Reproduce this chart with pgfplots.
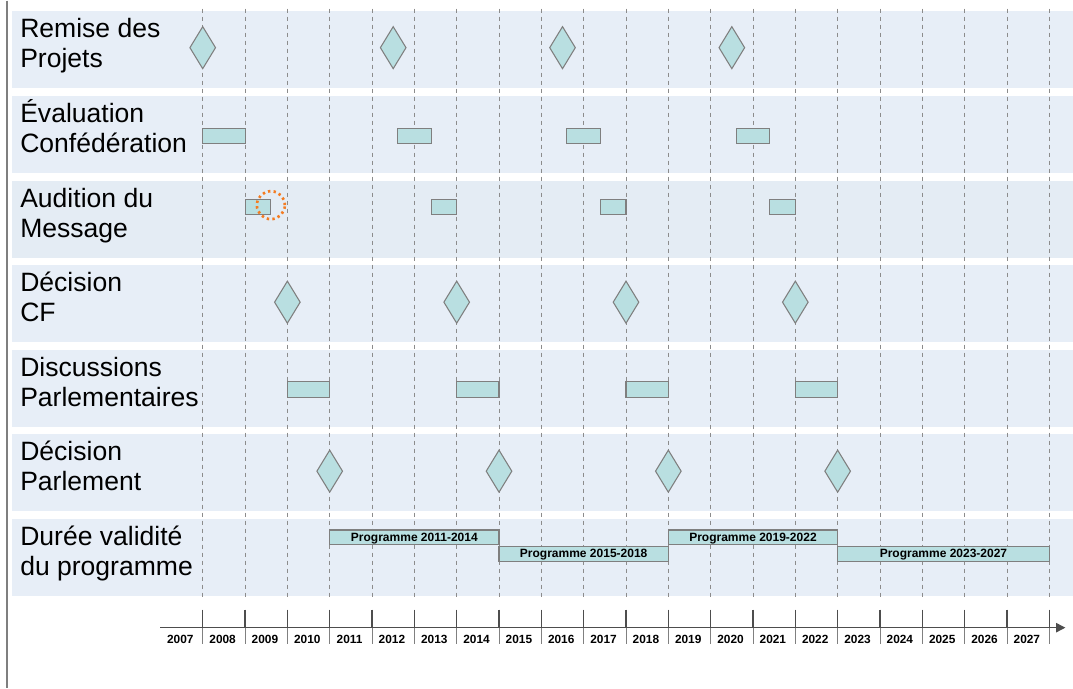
\documentclass[border=0pt]{standalone}
\usepackage{pgfplots}
\pgfplotsset{compat=1.18}
\usepackage{fontspec}
\setmainfont{Liberation Sans}
\usetikzlibrary{arrows.meta}
\definecolor{band}{HTML}{E7EEF7}
\definecolor{bandb}{HTML}{E4ECF4}
\definecolor{teal1}{HTML}{B9DFE1}
\definecolor{edge}{HTML}{7F7F7F}
\definecolor{dashc}{HTML}{8C8C8C}
\definecolor{axisc}{HTML}{4D4D4D}
\definecolor{circ}{HTML}{F47B20}
\pgfdeclareplotmark{gdiam}{%
  \pgfpathmoveto{\pgfqpoint{0pt}{15.75pt}}%
  \pgfpathlineto{\pgfqpoint{9.6pt}{0pt}}%
  \pgfpathlineto{\pgfqpoint{0pt}{-15.75pt}}%
  \pgfpathlineto{\pgfqpoint{-9.6pt}{0pt}}%
  \pgfpathclose
  \pgfusepathqfillstroke}
\newcommand{\gbar}[4]{\addplot[bar] coordinates {(#1,#3) (#2,#3) (#2,#4) (#1,#4)} -- cycle;}
\newcommand{\gband}[3]{\addplot[fill=#3, draw=none] coordinates {(2003.495,#1) (2028.56,#1) (2028.56,#2) (2003.495,#2)} -- cycle;}
\newcommand{\rowlab}[2]{\node[anchor=base west, inner sep=0pt, font=\fontsize{19.9}{23}\selectfont] at (axis cs:2003.684,#1) {#2};}
\begin{document}
\begin{tikzpicture}
\begin{axis}[
  width=804.75pt, height=515.25pt, scale only axis,
  xmin=2003.211, xmax=2028.56, ymin=0, ymax=687, y dir=reverse,
  hide axis, clip=false,
  bar/.style={fill=teal1, draw=edge, line width=0.8pt},
  diam/.style={only marks, mark=gdiam, mark options={fill=teal1, draw=edge, line width=0.8pt}},
]
\path (rel axis cs:0,0) rectangle (rel axis cs:1,1);
% row bands
\gband{10}{87}{band}
\gband{95}{172}{band}
\gband{180}{257}{bandb}
\gband{264}{341}{band}
\gband{349}{426}{band}
\gband{433}{510}{band}
\gband{518}{595}{band}
% left border
\addplot[edge, line width=1pt] coordinates {(2003.377,0) (2003.377,687)};
% dashed year lines and ticks
\pgfplotsinvokeforeach{2008,2009,2010,2011,2012,2013,2014,2015,2016,2017,2018,2019,2020,2021,2022,2023,2024,2025,2026,2027,2028}{
  \addplot[dashc, line width=0.7pt, dash pattern=on 3.5pt off 2.5pt] coordinates {(#1,8) (#1,597)};
  \addplot[axisc, line width=1pt] coordinates {(#1,609) (#1,627)};
  \addplot[gray, line width=0.6pt] coordinates {(#1,627) (#1,643)};
}
% bottom axis line
\addplot[axisc, line width=1pt, -{Triangle[length=7pt,width=7pt]}] coordinates {(2007,627) (2028.38,627)};
\pgfplotsinvokeforeach{2007,2008,2009,2010,2011,2012,2013,2014,2015,2016,2017,2018,2019,2020,2021,2022,2023,2024,2025,2026,2027}{
  \node[anchor=base, inner sep=0pt, font=\bfseries\fontsize{8.9}{10}\selectfont] at (axis cs:#1.47,643.3) {#1};
}
% Remise des Projets
\addplot[diam] coordinates {(2008,47) (2012.5,47) (2016.5,47) (2020.5,47)};
% Evaluation Confederation
\gbar{2008}{2009}{127.5}{142.5}
\gbar{2012.6}{2013.4}{127.5}{142.5}
\gbar{2016.6}{2017.4}{127.5}{142.5}
\gbar{2020.6}{2021.4}{127.5}{142.5}
% Audition du Message
\gbar{2009}{2009.6}{198.5}{213.5}
\gbar{2013.4}{2014}{198.5}{213.5}
\gbar{2017.4}{2018}{198.5}{213.5}
\gbar{2021.4}{2022}{198.5}{213.5}
% Decision CF
\addplot[diam] coordinates {(2010,301.5) (2014,301.5) (2018,301.5) (2022,301.5)};
% Discussions Parlementaires
\gbar{2010}{2011}{381}{396.5}
\gbar{2014}{2015}{381}{396.5}
\gbar{2018}{2019}{381}{396.5}
\gbar{2022}{2023}{381}{396.5}
% Decision Parlement
\addplot[diam] coordinates {(2011,470.5) (2015,470.5) (2019,470.5) (2023,470.5)};
% Programmes
\gbar{2011}{2015}{529.3}{543.8}
\gbar{2015}{2019}{545.5}{560.5}
\gbar{2019}{2023}{529.3}{543.8}
\gbar{2023}{2028}{545.5}{560.5}
% orange dotted circle
\addplot[only marks, mark=o, mark size=10.5pt, mark options={draw=circ, line width=2pt, dash pattern=on 1.8pt off 2.4pt}] coordinates {(2009.61,204.5)};
% programme labels
\node[anchor=base, inner sep=0pt, font=\bfseries\fontsize{9}{10}\selectfont] at (axis cs:2013,540.7) {Programme 2011-2014};
\node[anchor=base, inner sep=0pt, font=\bfseries\fontsize{9}{10}\selectfont] at (axis cs:2017,556.7) {Programme 2015-2018};
\node[anchor=base, inner sep=0pt, font=\bfseries\fontsize{9}{10}\selectfont] at (axis cs:2021,540.7) {Programme 2019-2022};
\node[anchor=base, inner sep=0pt, font=\bfseries\fontsize{9}{10}\selectfont] at (axis cs:2025.5,556.7) {Programme 2023-2027};
% row labels
\rowlab{37}{Remise des}
\rowlab{67}{Projets}
\rowlab{122}{Évaluation}
\rowlab{152}{Confédération}
\rowlab{207}{Audition du}
\rowlab{237}{Message}
\rowlab{291}{Décision}
\rowlab{321}{CF}
\rowlab{376}{Discussions}
\rowlab{406}{Parlementaires}
\rowlab{460}{Décision}
\rowlab{490}{Parlement}
\rowlab{545}{Durée validité}
\rowlab{575}{du programme}
\end{axis}
\end{tikzpicture}
\end{document}
